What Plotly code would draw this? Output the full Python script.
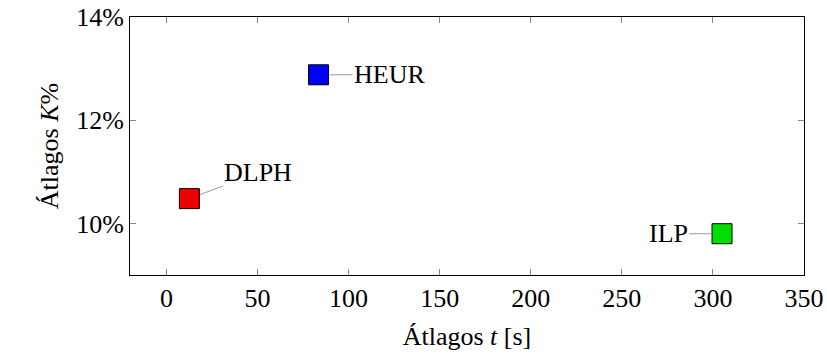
import plotly.graph_objects as go

names = ["DLPH", "HEUR", "ILP"]
times = [12.6, 83.5, 305]
kvals = [10.48, 12.88, 9.8]
colors = ["#ee0000", "#0000ff", "#00e000"]
label_dx = [69, 71, -54]
label_dy = [-26, 0, 0]

xticks = [0, 50, 100, 150, 200, 250, 300, 350]
yticks = [10, 12, 14]
ytick_text = ["10%", "12%", "14%"]

font_family = "'Liberation Serif', 'Times New Roman', 'DejaVu Serif', serif"
FS = 26

fig = go.Figure()
fig.add_trace(go.Scatter(
    x=times, y=kvals, mode="markers",
    marker=dict(symbol="square", size=20, color=colors,
                line=dict(color="black", width=1)),
    showlegend=False, hoverinfo="skip",
))

for n, t, k, dx, dy in zip(names, times, kvals, label_dx, label_dy):
    fig.add_annotation(
        x=t, y=k, text=n, showarrow=True, arrowhead=0, arrowwidth=1,
        arrowcolor="#999999", ax=dx, ay=dy, standoff=11,
        font=dict(family=font_family, size=FS, color="black"),
    )

fig.update_layout(
    width=827, height=363,
    margin=dict(l=130, r=23, t=17, b=88),
    plot_bgcolor="white", paper_bgcolor="white",
    font=dict(family=font_family, size=FS, color="black"),
    xaxis=dict(
        range=[-20, 350], tickvals=xticks, ticks="inside", ticklen=6,
        tickcolor="#888888", showline=True, linecolor="black", linewidth=1,
        mirror="ticks", showgrid=False, zeroline=False, automargin=False,
        tickfont=dict(family=font_family, size=FS, color="black"),
        title=dict(text="Átlagos <i>t</i> [s]", standoff=14,
                   font=dict(family=font_family, size=FS, color="black")),
    ),
    yaxis=dict(
        range=[9, 14], tickvals=yticks, ticktext=ytick_text, ticks="inside",
        ticklen=6, tickcolor="#888888", showline=True, linecolor="black",
        linewidth=1, mirror="ticks", showgrid=False, zeroline=False,
        automargin=False,
        tickfont=dict(family=font_family, size=FS, color="black"),
        title=dict(text="Átlagos <i>K</i>%", standoff=10,
                   font=dict(family=font_family, size=FS, color="black")),
    ),
)

fig.write_html("out.html")
